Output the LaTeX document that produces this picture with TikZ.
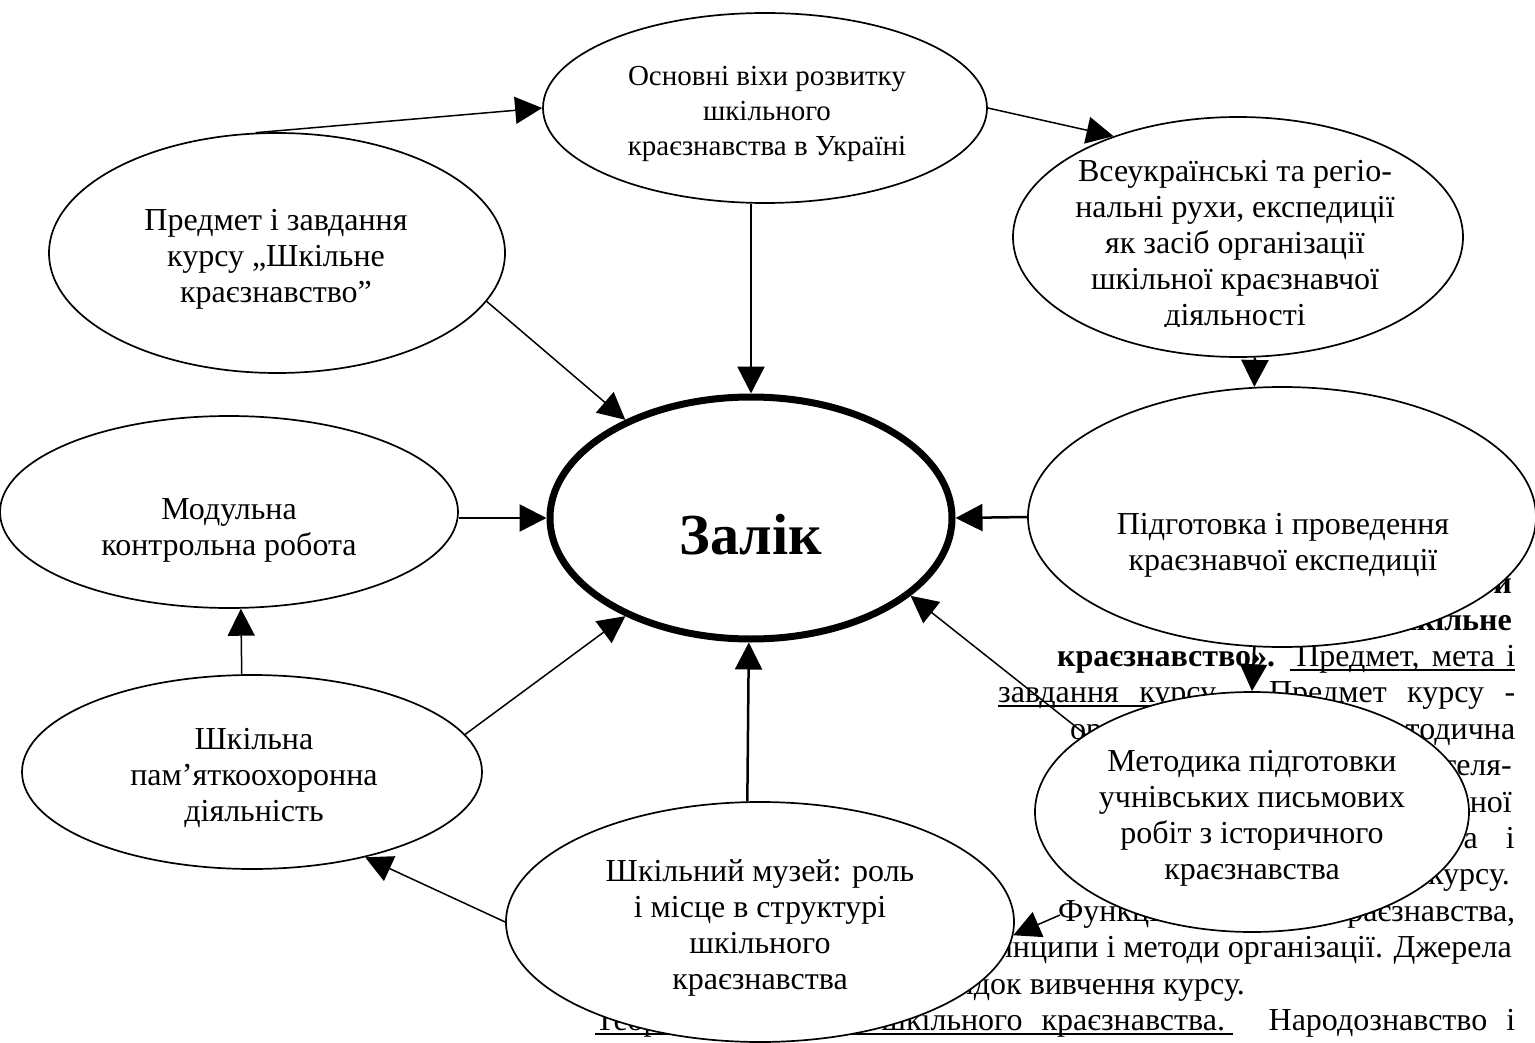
\documentclass[tikz,border=0pt]{standalone}
\usepackage{fontspec}
\setmainfont{Liberation Serif}
\usetikzlibrary{shapes.geometric,arrows.meta}
\tikzset{
  ell/.style={draw, ellipse, fill=white, line width=1.7pt, inner sep=0pt},
  txt/.style={align=center, inner sep=0pt, font=\fontsize{32}{36}\selectfont},
  bgtxt/.style={inner sep=0pt, font=\fontsize{32}{36}\selectfont},
  arr/.style={line width=2.5pt, -{Triangle[length=27pt,width=27pt]}},
  thinarr/.style={line width=1.5pt, -{Triangle[length=27pt,width=27pt]}},
  uline/.style={line width=1.5pt}
}
\begin{document}
\begin{tikzpicture}[x=1pt,y=-1pt]
			%%%%% START %%%%%
			\useasboundingbox (0,0) rectangle (1535,1043);
			
			% page text behind the scheme
			\node[bgtxt, anchor=base east] (la) at (1512,593) {\bfseries Тема 1. Теоретичні основи};
			\node[bgtxt, anchor=base east] (lb) at (1512,630) {\bfseries курсу «Шкільне};
			\node[bgtxt, anchor=base west] (lc) at (1057,666) {\makebox[458pt][s]{\textbf{краєзнавство».} Предмет, мета і}};
			\node[bgtxt, anchor=base west] (l2) at (998,702) {\makebox[517pt][s]{завдання курсу. Предмет курсу -}};
			\node[bgtxt, anchor=base west] (l3) at (1070,739) {\makebox[445pt][s]{організаційна і методична}};
			\node[bgtxt, anchor=base east] (l4) at (1512,775) {діяльність вчителя-};
			\node[bgtxt, anchor=base east] (l5) at (1512,812) {навчально-пізнавальної};
			\node[bgtxt, anchor=base east] (l6) at (1515,848) {роботи учнів. Мета\hspace{28pt}і};
			\node[bgtxt, anchor=base east] (l7) at (1510,884) {завдання курсу.};
			\node[bgtxt, anchor=base west] (l8) at (1058,921) {\makebox[457pt][s]{Функції шкільного краєзнавства,}};
			\node[bgtxt, anchor=base east] (l9) at (1512,957) {його принципи і методи організації. Джерела};
			\node[bgtxt, anchor=base east] (l10) at (1245,994) {та порядок вивчення курсу.};
			\node[bgtxt, anchor=base west] (l11) at (595,1030) {\makebox[920pt][s]{Теоретичні основи шкільного краєзнавства. Народознавство і}};
			\draw[uline] (1290,670) -- (1515,670);
			\draw[uline] (998,706) -- (1225,706);
			\draw[uline] (595,1034) -- (1233,1034);
			
			% ellipses
			\node[ell, minimum width=444pt, minimum height=190pt] (osn) at (765,108) {};
			\node[ell, minimum width=456pt, minimum height=240pt] (pred) at (277,253) {};
			\node[ell, minimum width=450pt, minimum height=240pt] (vse) at (1238,237) {};
			\node[ell, line width=7pt, minimum width=402pt, minimum height=242pt] (zal) at (751,518) {};
			\node[ell, minimum width=458pt, minimum height=192pt] (mod) at (229,512) {};
			\node[ell, minimum width=508pt, minimum height=260pt] (pid) at (1282,517) {};
			\node[ell, minimum width=460pt, minimum height=194pt] (shk) at (252,772) {};
			\node[ell, minimum width=508pt, minimum height=240pt] (muz) at (760,922) {};
			\node[ell, minimum width=434pt, minimum height=240pt] (met) at (1252,812) {};
			
			\node[txt, font=\fontsize{29}{35}\selectfont] (osn-t) at (767,114) {Основні віхи розвитку\\шкільного\\краєзнавства в Україні};
			\node[txt] (pred-t) at (276,259) {Предмет і завдання\\курсу „Шкільне\\краєзнавство”};
			\begin{scope}
				\clip (1000,95) rectangle (1480,326);
				\node[txt] (vse-t) at (1235,246) {Всеукраїнські та регіо-\\нальні рухи, експедиції\\як засіб організації\\шкільної краєзнавчої\\діяльності};
			\end{scope}
			\node[txt, font=\fontsize{58}{60}\selectfont\bfseries] (zal-t) at (751,535) {Залік};
			\node[txt] (mod-t) at (229,530) {Модульна\\контрольна робота};
			\node[txt] (pid-t) at (1283,545) {Підготовка і проведення\\краєзнавчої експедиції};
			\node[txt] (shk-t) at (254,778) {Шкільна\\пам’яткоохоронна\\діяльність};
			\node[txt] (muz-t) at (760,928) {Шкільний музей: роль\\і місце в структурі\\шкільного\\краєзнавства};
			\node[txt] (met-t) at (1252,818) {Методика підготовки\\учнівських письмових\\робіт з історичного\\краєзнавства};
			
			% arrows
			\draw[thinarr] (pred.100) -- (osn.west);
			\draw[thinarr] (osn.east) -- (vse.141);
			\draw[arr] (zal.north |- osn.south) -- (zal.north);
			\draw[thinarr] (pred.-13) -- (zal.142);
			\draw[arr] (vse.-82) -- (pid.102);
			\draw[arr] (pid.-102) -- (met.north);
			\draw[arr] (pid.west) -- (zal.east);
			\draw[arr] (mod.east |- zal.west) -- (zal.west);
			\draw[thinarr] (shk.96) -- (mod.-83);
			\draw[thinarr] (shk.10) -- (zal.218);
			\draw[arr] (muz.96) -- (zal.-91);
			\draw[thinarr] (muz.west) -- (shk.-37);
			\draw[thinarr] (met.155) -- (zal.-26);
			\coordinate (fn) at (1060,915);
			\draw[thinarr] (fn) -- (muz.-3);
			
			%%%%% END %%%%%
\end{tikzpicture}
\end{document}
